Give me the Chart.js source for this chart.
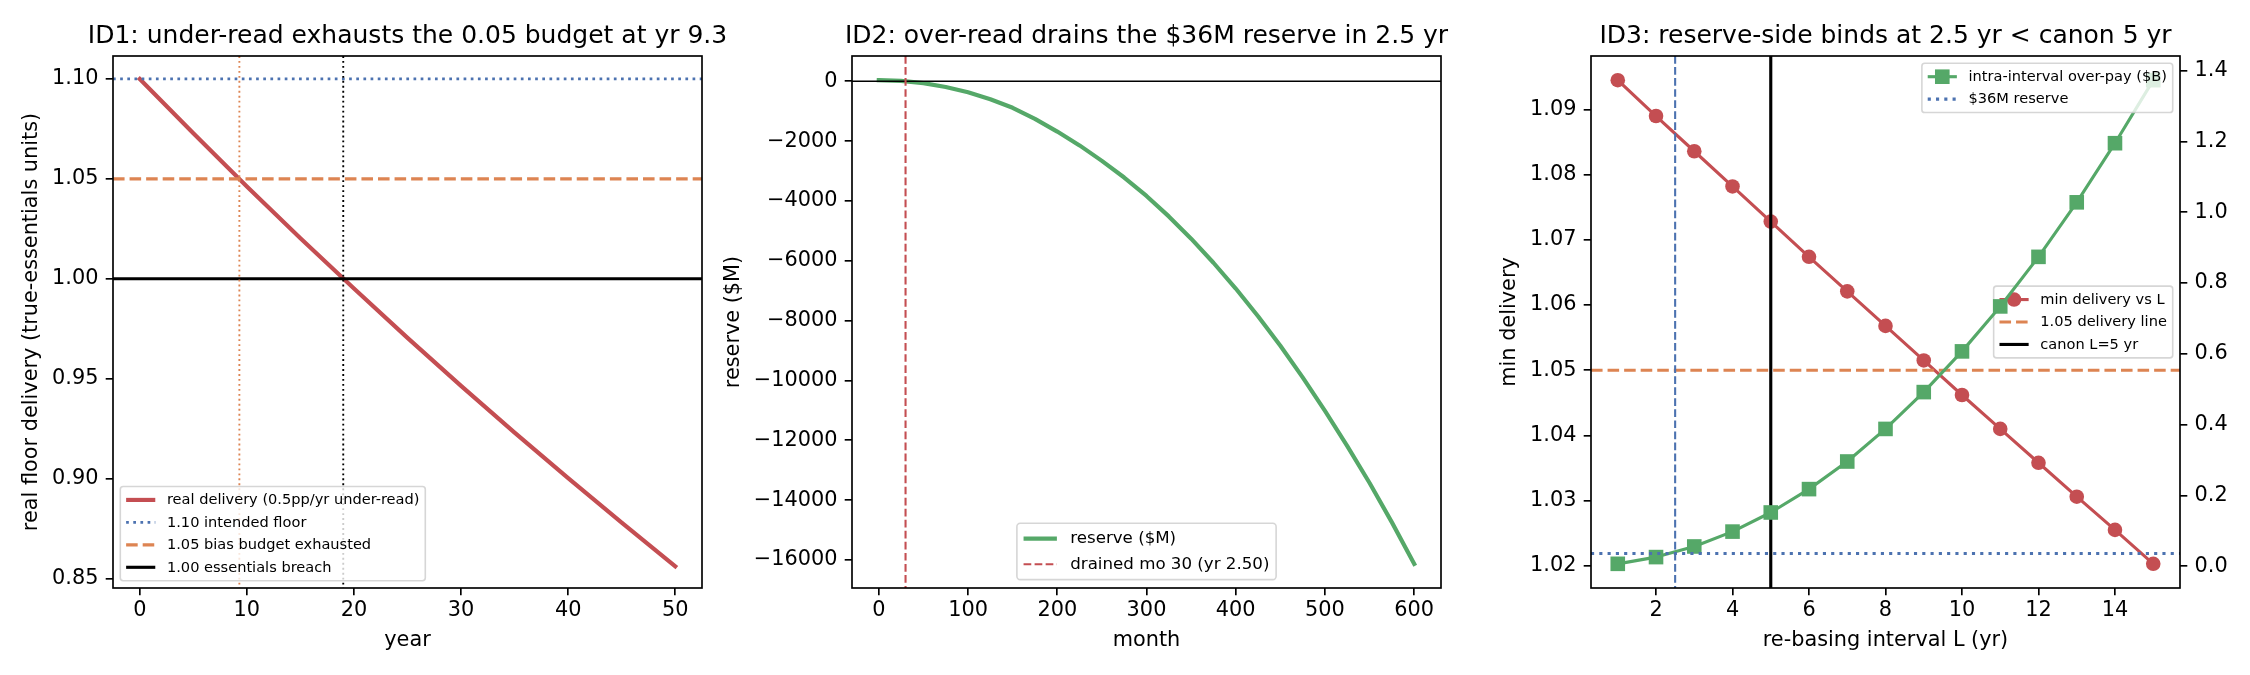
<!DOCTYPE html>
<html><head><meta charset="utf-8">
<script src="https://cdn.jsdelivr.net/npm/chart.js@4.4.1/dist/chart.umd.min.js"></script>
<style>
html,body{margin:0;padding:0;background:#fff;}
#wrap{position:relative;width:2250px;height:675px;overflow:hidden;background:#fff;}
canvas{position:absolute;left:0;top:0;}
</style></head><body>
<div id="wrap">
<canvas id="c1" width="2250" height="675"></canvas>
<canvas id="c2" width="2250" height="675"></canvas>
<canvas id="c3" width="2250" height="675"></canvas>
</div>
<script>
// ---------------- DATA ----------------
// Panel 1
const p1Years = [0, 5, 10, 15, 20, 25, 30, 35, 40, 45, 50];
const p1Delivery = [1.1000, 1.0728, 1.0462, 1.0203, 0.9951, 0.9704, 0.9464, 0.9230, 0.9002, 0.8779, 0.8561];
const p1Levels = [1.10, 1.05, 1.00];          // intended floor, bias budget, essentials breach
const p1CrossYears = [9.3, 19.0];              // budget exhausted, breach
const p1XTicks = [0, 10, 20, 30, 40, 50];
const p1YTicks = [0.85, 0.90, 0.95, 1.00, 1.05, 1.10];

// Panel 2
const p2Months = [0,25,50,75,100,125,150,175,200,225,250,275,300,325,350,375,400,425,450,475,500,525,550,575,600];
const p2Reserve = [36, 11, -64, -191, -370, -602, -887, -1257, -1682, -2144, -2662, -3218, -3833, -4517, -5261, -6066, -6928, -7852, -8840, -9897, -11019, -12192, -13426, -14743, -16128];
const p2DrainMonth = 30;
const p2Zero = 0;
const p2XTicks = [0, 100, 200, 300, 400, 500, 600];
const p2YTicks = [0, -2000, -4000, -6000, -8000, -10000, -12000, -14000, -16000];

// Panel 3
const p3L = [1,2,3,4,5,6,7,8,9,10,11,12,13,14,15];
const p3MinDelivery = [1.0945,1.0890,1.0836,1.0782,1.0728,1.0674,1.0621,1.0568,1.0515,1.0462,1.0410,1.0358,1.0306,1.0255,1.0203];
const p3OverPay = [0.007,0.026,0.056,0.098,0.152,0.218,0.296,0.388,0.492,0.607,0.734,0.874,1.028,1.195,1.373];
const p3DeliveryLine = 1.05;
const p3Canon = 5;
const p3ReserveBind = 2.5;
const p3ReserveB = 0.036;
const p3XTicks = [2, 4, 6, 8, 10, 12, 14];
const p3YTicks = [1.02, 1.03, 1.04, 1.05, 1.06, 1.07, 1.08, 1.09];
const p3Y2Ticks = [0.0, 0.2, 0.4, 0.6, 0.8, 1.0, 1.2, 1.4];

// ---------------- STYLE ----------------
const FONT = "'DejaVu Sans', 'Liberation Sans', sans-serif";
const RED = '#C44E52', GREEN = '#55A868', BLUE = '#4C72B0', ORANGE = '#DD8452', BLACK = '#000000';
const LW = pt => pt * 150 / 72;
const TICKFS = 20.83, TITLEFS = 25;
const MSIZE = 14.6;

function dashFor(style, lw) {
  if (style === 'dashed') return [3.7 * lw, 1.6 * lw];
  if (style === 'dotted') return [1 * lw, 1.65 * lw];
  return [];
}
function strokeSeg(ctx, x1, y1, x2, y2, color, lw, style) {
  ctx.save(); ctx.beginPath(); ctx.strokeStyle = color; ctx.lineWidth = lw;
  ctx.setLineDash(dashFor(style, lw)); ctx.lineCap = 'butt';
  ctx.moveTo(x1, y1); ctx.lineTo(x2, y2); ctx.stroke(); ctx.restore();
}
function drawRefs(chart, refs) {
  const a = chart.chartArea, ctx = chart.ctx;
  ctx.save(); ctx.beginPath(); ctx.rect(a.left, a.top, a.right - a.left, a.bottom - a.top); ctx.clip();
  refs.forEach(r => {
    const p = chart.scales[r.scale].getPixelForValue(r.value);
    if (r.dir === 'h') strokeSeg(ctx, a.left, p, a.right, p, r.color, r.lw, r.style);
    else strokeSeg(ctx, p, a.top, p, a.bottom, r.color, r.lw, r.style);
  });
  ctx.restore();
}
function drawMarker(ctx, x, y, marker, color, size) {
  ctx.save(); ctx.fillStyle = color;
  if (marker === 'o') { ctx.beginPath(); ctx.arc(x, y, size / 2, 0, Math.PI * 2); ctx.fill(); }
  else if (marker === 's') { ctx.fillRect(x - size / 2, y - size / 2, size, size); }
  ctx.restore();
}
function roundRectPath(ctx, x, y, w, h, r) {
  ctx.beginPath();
  ctx.moveTo(x + r, y); ctx.lineTo(x + w - r, y); ctx.arcTo(x + w, y, x + w, y + r, r);
  ctx.lineTo(x + w, y + h - r); ctx.arcTo(x + w, y + h, x + w - r, y + h, r);
  ctx.lineTo(x + r, y + h); ctx.arcTo(x, y + h, x, y + h - r, r);
  ctx.lineTo(x, y + r); ctx.arcTo(x, y, x + r, y, r); ctx.closePath();
}
function drawLegend(chart, lg) {
  const ctx = chart.ctx, a = chart.chartArea, fs = lg.fs;
  ctx.save();
  ctx.font = fs + 'px ' + FONT;
  const tw = Math.max(...lg.items.map(it => ctx.measureText(it.label).width));
  const W = fs * (0.4 + 2 + 0.8 + 0.4) + tw;
  const h = fs * 1.04, n = lg.items.length;
  const H = n * h + (n - 1) * 0.5 * fs + 0.8 * fs;
  const pad = 0.5 * fs;
  let x, y;
  if (lg.loc === 'lower left') { x = a.left + pad; y = a.bottom - pad - H; }
  else if (lg.loc === 'lower center') { x = (a.left + a.right) / 2 - W / 2; y = a.bottom - pad - H; }
  else if (lg.loc === 'upper right') { x = a.right - pad - W; y = a.top + pad; }
  else { x = a.right - pad - W; y = (a.top + a.bottom) / 2 - H / 2; }
  roundRectPath(ctx, x, y, W, H, 0.2 * fs);
  ctx.fillStyle = 'rgba(255,255,255,0.8)'; ctx.fill();
  ctx.lineWidth = 1.6; ctx.strokeStyle = 'rgba(204,204,204,0.8)'; ctx.stroke();
  lg.items.forEach((it, i) => {
    const cy = y + 0.4 * fs + h / 2 + i * (h + 0.5 * fs);
    const hx = x + 0.4 * fs;
    strokeSeg(ctx, hx, cy, hx + 2 * fs, cy, it.color, it.lw, it.style);
    if (it.marker) drawMarker(ctx, hx + fs, cy, it.marker, it.color, it.msize);
    ctx.fillStyle = '#000'; ctx.textBaseline = 'middle'; ctx.textAlign = 'left';
    ctx.font = fs + 'px ' + FONT;
    ctx.fillText(it.label, hx + 2.8 * fs, cy + 0.5);
  });
  ctx.restore();
}
function makeDecor(cfg) {
  return {
    id: 'decor',
    beforeDatasetDraw(chart, args) {
      if (cfg.midIndex !== undefined && args.index === cfg.midIndex) {
        drawRefs(chart, cfg.midRefs || []);
        (cfg.midLegends || []).forEach(l => drawLegend(chart, l));
      }
    },
    afterDatasetsDraw(chart) {
      drawRefs(chart, cfg.refs || []);
      const a = chart.chartArea, ctx = chart.ctx;
      ctx.save(); ctx.strokeStyle = '#000'; ctx.lineWidth = LW(0.8);
      ctx.strokeRect(a.left, a.top, a.right - a.left, a.bottom - a.top); ctx.restore();
      (cfg.legends || []).forEach(l => drawLegend(chart, l));
    },
    afterDraw(chart) {
      const a = chart.chartArea, ctx = chart.ctx;
      ctx.save(); ctx.fillStyle = '#000';
      ctx.font = TITLEFS + 'px ' + FONT; ctx.textAlign = 'center'; ctx.textBaseline = 'alphabetic';
      ctx.fillText(cfg.title, (a.left + a.right) / 2, 43);
      ctx.font = TICKFS + 'px ' + FONT;
      ctx.fillText(cfg.xlabel, (a.left + a.right) / 2, 646);
      ctx.translate(cfg.ylabelX, (a.top + a.bottom) / 2); ctx.rotate(-Math.PI / 2);
      ctx.textBaseline = 'middle';
      ctx.fillText(cfg.ylabel, 0, 0);
      ctx.restore();
    }
  };
}
function axis(ticksArr, fmt, pos, min, max, size) {
  const horiz = pos === 'bottom';
  return {
    type: 'linear', position: pos, min, max,
    afterBuildTicks: s => { s.ticks = ticksArr.map(v => ({ value: v })); },
    afterFit: s => { if (horiz) s.height = size; else s.width = size; },
    ticks: { color: '#000', font: { family: FONT, size: TICKFS }, padding: horiz ? 2.4 : 7.3,
      autoSkip: false, maxRotation: 0, minRotation: 0, callback: v => fmt(v) },
    grid: { display: true, drawOnChartArea: false, drawTicks: true, tickLength: 7.3,
      tickWidth: LW(0.8), tickColor: '#000', color: '#000', lineWidth: LW(0.8) },
    border: { display: false },
    title: { display: false }
  };
}
const pts = (xs, ys) => xs.map((x, i) => ({ x, y: ys[i] }));
const intFmt = v => String(Math.round(v)).replace('-', '\u2212');
function makeChart(id, datasets, scales, padding, decor) {
  return new Chart(document.getElementById(id), {
    type: 'line',
    data: { datasets },
    options: {
      responsive: false, animation: false, devicePixelRatio: 1, events: [],
      layout: { padding },
      plugins: { legend: { display: false }, tooltip: { enabled: false }, title: { display: false } },
      scales
    },
    plugins: [decor]
  });
}
function lineDs(data, color, lw, extra) {
  return Object.assign({ data, borderColor: color, backgroundColor: color, borderWidth: lw,
    pointRadius: 0, tension: 0, fill: false, borderJoinStyle: 'round', borderCapStyle: 'square' }, extra || {});
}

// ---------------- PANEL 1 ----------------
makeChart('c1',
  [lineDs(pts(p1Years, p1Delivery), RED, LW(2))],
  {
    x: axis(p1XTicks, intFmt, 'bottom', -2.5, 52.5, 50),
    y: axis(p1YTicks, v => v.toFixed(2), 'left', 0.8452, 1.1115, 100)
  },
  { left: 13, right: 2250 - 702, top: 56, bottom: 675 - 588 - 50 },
  makeDecor({
    title: 'ID1: under-read exhausts the 0.05 budget at yr 9.3',
    xlabel: 'year', ylabel: 'real floor delivery (true-essentials units)', ylabelX: 31.5,
    refs: [
      { dir: 'h', scale: 'y', value: p1Levels[0], color: BLUE, lw: 2.7, style: 'dotted' },
      { dir: 'h', scale: 'y', value: p1Levels[1], color: ORANGE, lw: LW(1.5), style: 'dashed' },
      { dir: 'h', scale: 'y', value: p1Levels[2], color: BLACK, lw: LW(1.5), style: 'solid' },
      { dir: 'v', scale: 'x', value: p1CrossYears[0], color: ORANGE, lw: LW(0.9), style: 'dotted' },
      { dir: 'v', scale: 'x', value: p1CrossYears[1], color: BLACK, lw: LW(0.9), style: 'dotted' }
    ],
    legends: [{ loc: 'lower left', fs: 14.58, items: [
      { label: 'real delivery (0.5pp/yr under-read)', color: RED, lw: LW(2), style: 'solid' },
      { label: '1.10 intended floor', color: BLUE, lw: 2.7, style: 'dotted' },
      { label: '1.05 bias budget exhausted', color: ORANGE, lw: LW(1.5), style: 'dashed' },
      { label: '1.00 essentials breach', color: BLACK, lw: LW(1.5), style: 'solid' }
    ] }]
  })
);

// ---------------- PANEL 2 ----------------
makeChart('c2',
  [lineDs(pts(p2Months, p2Reserve), GREEN, LW(2))],
  {
    x: axis(p2XTicks, intFmt, 'bottom', -30, 630, 50),
    y: axis(p2YTicks, intFmt, 'left', -16936, 844, 100)
  },
  { left: 852 - 100, right: 2250 - 1441, top: 56, bottom: 675 - 588 - 50 },
  makeDecor({
    title: 'ID2: over-read drains the $36M reserve in 2.5 yr',
    xlabel: 'month', ylabel: 'reserve ($M)', ylabelX: 733.5,
    refs: [
      { dir: 'h', scale: 'y', value: p2Zero, color: BLACK, lw: LW(0.8), style: 'solid' },
      { dir: 'v', scale: 'x', value: p2DrainMonth, color: RED, lw: LW(1), style: 'dashed' }
    ],
    legends: [{ loc: 'lower center', fs: 16.67, items: [
      { label: 'reserve ($M)', color: GREEN, lw: LW(2), style: 'solid' },
      { label: 'drained mo 30 (yr 2.50)', color: RED, lw: LW(1), style: 'dashed' }
    ] }]
  })
);

// ---------------- PANEL 3 ----------------
makeChart('c3',
  [
    lineDs(pts(p3L, p3OverPay), GREEN, LW(1.5), { yAxisID: 'y2', pointRadius: MSIZE / 2 * Math.SQRT2, pointStyle: 'rect',
      pointBackgroundColor: GREEN, pointBorderColor: GREEN, pointBorderWidth: 0 }),
    lineDs(pts(p3L, p3MinDelivery), RED, LW(1.5), { yAxisID: 'y', pointRadius: MSIZE / 2, pointStyle: 'circle',
      pointBackgroundColor: RED, pointBorderColor: RED, pointBorderWidth: 0 })
  ],
  {
    x: axis(p3XTicks, intFmt, 'bottom', 0.3, 15.7, 50),
    y: axis(p3YTicks, v => v.toFixed(2), 'left', 1.01659, 1.09821, 100),
    y2: axis(p3Y2Ticks, v => v.toFixed(1), 'right', -0.0613, 1.4413, 60)
  },
  { left: 1591 - 100, right: 2250 - 2180 - 60, top: 56, bottom: 675 - 588 - 50 },
  makeDecor({
    title: 'ID3: reserve-side binds at 2.5 yr < canon 5 yr',
    xlabel: 're-basing interval L (yr)', ylabel: 'min delivery', ylabelX: 1510,
    midIndex: 0,
    midRefs: [
      { dir: 'h', scale: 'y', value: p3DeliveryLine, color: ORANGE, lw: LW(1.5), style: 'dashed' },
      { dir: 'v', scale: 'x', value: p3Canon, color: BLACK, lw: LW(1.5), style: 'solid' },
      { dir: 'v', scale: 'x', value: p3ReserveBind, color: BLUE, lw: LW(1), style: 'dashed' }
    ],
    midLegends: [{ loc: 'center right', fs: 14.58, items: [
      { label: 'min delivery vs L', color: RED, lw: LW(1.5), style: 'solid', marker: 'o', msize: MSIZE },
      { label: '1.05 delivery line', color: ORANGE, lw: LW(1.5), style: 'dashed' },
      { label: 'canon L=5 yr', color: BLACK, lw: LW(1.5), style: 'solid' }
    ] }],
    refs: [
      { dir: 'h', scale: 'y2', value: p3ReserveB, color: BLUE, lw: LW(1.5), style: 'dotted' }
    ],
    legends: [{ loc: 'upper right', fs: 14.58, items: [
      { label: 'intra-interval over-pay ($B)', color: GREEN, lw: LW(1.5), style: 'solid', marker: 's', msize: MSIZE },
      { label: '$36M reserve', color: BLUE, lw: LW(1.5), style: 'dotted' }
    ] }]
  })
);
</script>
</body></html>
